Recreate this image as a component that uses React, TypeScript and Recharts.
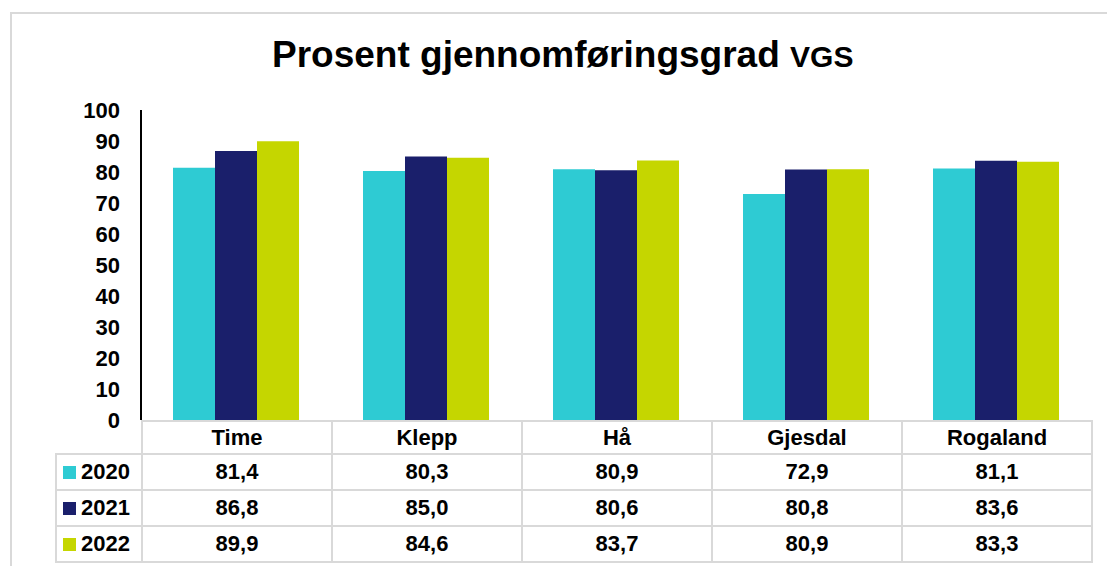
import React from 'react';
import { BarChart, Bar, XAxis, YAxis } from 'recharts';

const categories = ['Time', 'Klepp', 'Hå', 'Gjesdal', 'Rogaland'];
const values2020 = [81.4, 80.3, 80.9, 72.9, 81.1];
const values2021 = [86.8, 85.0, 80.6, 80.8, 83.6];
const values2022 = [89.9, 84.6, 83.7, 80.9, 83.3];
const yTicks = [0, 10, 20, 30, 40, 50, 60, 70, 80, 90, 100];

const series = [
  { key: 'y2020', label: '2020', color: '#2ECBD3', values: values2020 },
  { key: 'y2021', label: '2021', color: '#1A1F6B', values: values2021 },
  { key: 'y2022', label: '2022', color: '#C5D600', values: values2022 },
];

const data = categories.map((name, i) => ({
  name,
  y2020: values2020[i],
  y2021: values2021[i],
  y2022: values2022[i],
}));

const FONT = '"Liberation Sans", Arial, sans-serif';
const GRID = '#d9d9d9';

const PLOT_LEFT = 141;
const PLOT_RIGHT = 1091;
const PLOT_TOP = 110;
const PLOT_BOTTOM = 420;
const COL_W = (PLOT_RIGHT - PLOT_LEFT) / categories.length;
const HEADER_H = 33;
const ROW_H = 36;
const LEGEND_LEFT = 55;

const fmt = (v: number) => v.toFixed(1).replace('.', ',');

export default function App() {
  const cell: React.CSSProperties = {
    position: 'absolute',
    display: 'flex',
    alignItems: 'center',
    justifyContent: 'center',
    fontFamily: FONT,
    fontWeight: 700,
    fontSize: 22,
    color: '#000',
    boxSizing: 'border-box',
  };

  return (
    <div style={{ position: 'absolute', left: 0, top: 0, width: 1107, height: 566, background: '#fff', overflow: 'hidden' }}>
      {/* outer chart border */}
      <div style={{ position: 'absolute', left: 10, top: 12, width: 1120, height: 600, borderLeft: `2px solid ${GRID}`, borderTop: `2px solid ${GRID}` }} />

      <div style={{ position: 'absolute', left: 272, top: 36, lineHeight: '37px', fontFamily: FONT, fontWeight: 700, fontSize: 37, color: '#000', whiteSpace: 'nowrap' }}>
        Prosent gjennomføringsgrad <span style={{ fontSize: 30 }}>VGS</span>
      </div>

      <div style={{ position: 'absolute', left: 0, top: 0 }}>
        <BarChart
          width={1107}
          height={566}
          data={data}
          margin={{ top: PLOT_TOP, right: 1107 - PLOT_RIGHT, bottom: 566 - PLOT_BOTTOM, left: 0 }}
          barCategoryGap={32}
          barGap={0}
        >
          <XAxis dataKey="name" hide />
          <YAxis
            width={PLOT_LEFT}
            domain={[0, 100]}
            ticks={yTicks}
            interval={0}
            tickLine={false}
            tickMargin={15}
            axisLine={{ stroke: '#000', strokeWidth: 2 }}
            tick={{ fontFamily: FONT, fontWeight: 700, fontSize: 22, fill: '#000' }}
          />
          {series.map((s) => (
            <Bar key={s.key} dataKey={s.key} fill={s.color} isAnimationActive={false} />
          ))}
        </BarChart>
      </div>

      {/* data table: header row */}
      {categories.map((c, i) => (
        <div
          key={c}
          style={{
            ...cell,
            left: PLOT_LEFT + i * COL_W,
            top: PLOT_BOTTOM,
            width: COL_W + 2,
            height: HEADER_H + 2,
            border: `2px solid ${GRID}`,
          }}
        >
          {c}
        </div>
      ))}

      {/* data table: series rows */}
      {series.map((s, r) => {
        const top = PLOT_BOTTOM + HEADER_H + r * ROW_H;
        return (
          <React.Fragment key={s.key}>
            <div
              style={{
                ...cell,
                justifyContent: 'flex-start',
                left: LEGEND_LEFT,
                top,
                width: PLOT_LEFT - LEGEND_LEFT + 2,
                height: ROW_H + 2,
                border: `2px solid ${GRID}`,
                paddingLeft: 6,
              }}
            >
              <span style={{ display: 'inline-block', width: 13, height: 13, background: s.color, marginRight: 5 }} />
              {s.label}
            </div>
            {s.values.map((v, i) => (
              <div
                key={i}
                style={{
                  ...cell,
                  left: PLOT_LEFT + i * COL_W,
                  top,
                  width: COL_W + 2,
                  height: ROW_H + 2,
                  border: `2px solid ${GRID}`,
                }}
              >
                {fmt(v)}
              </div>
            ))}
          </React.Fragment>
        );
      })}
    </div>
  );
}
